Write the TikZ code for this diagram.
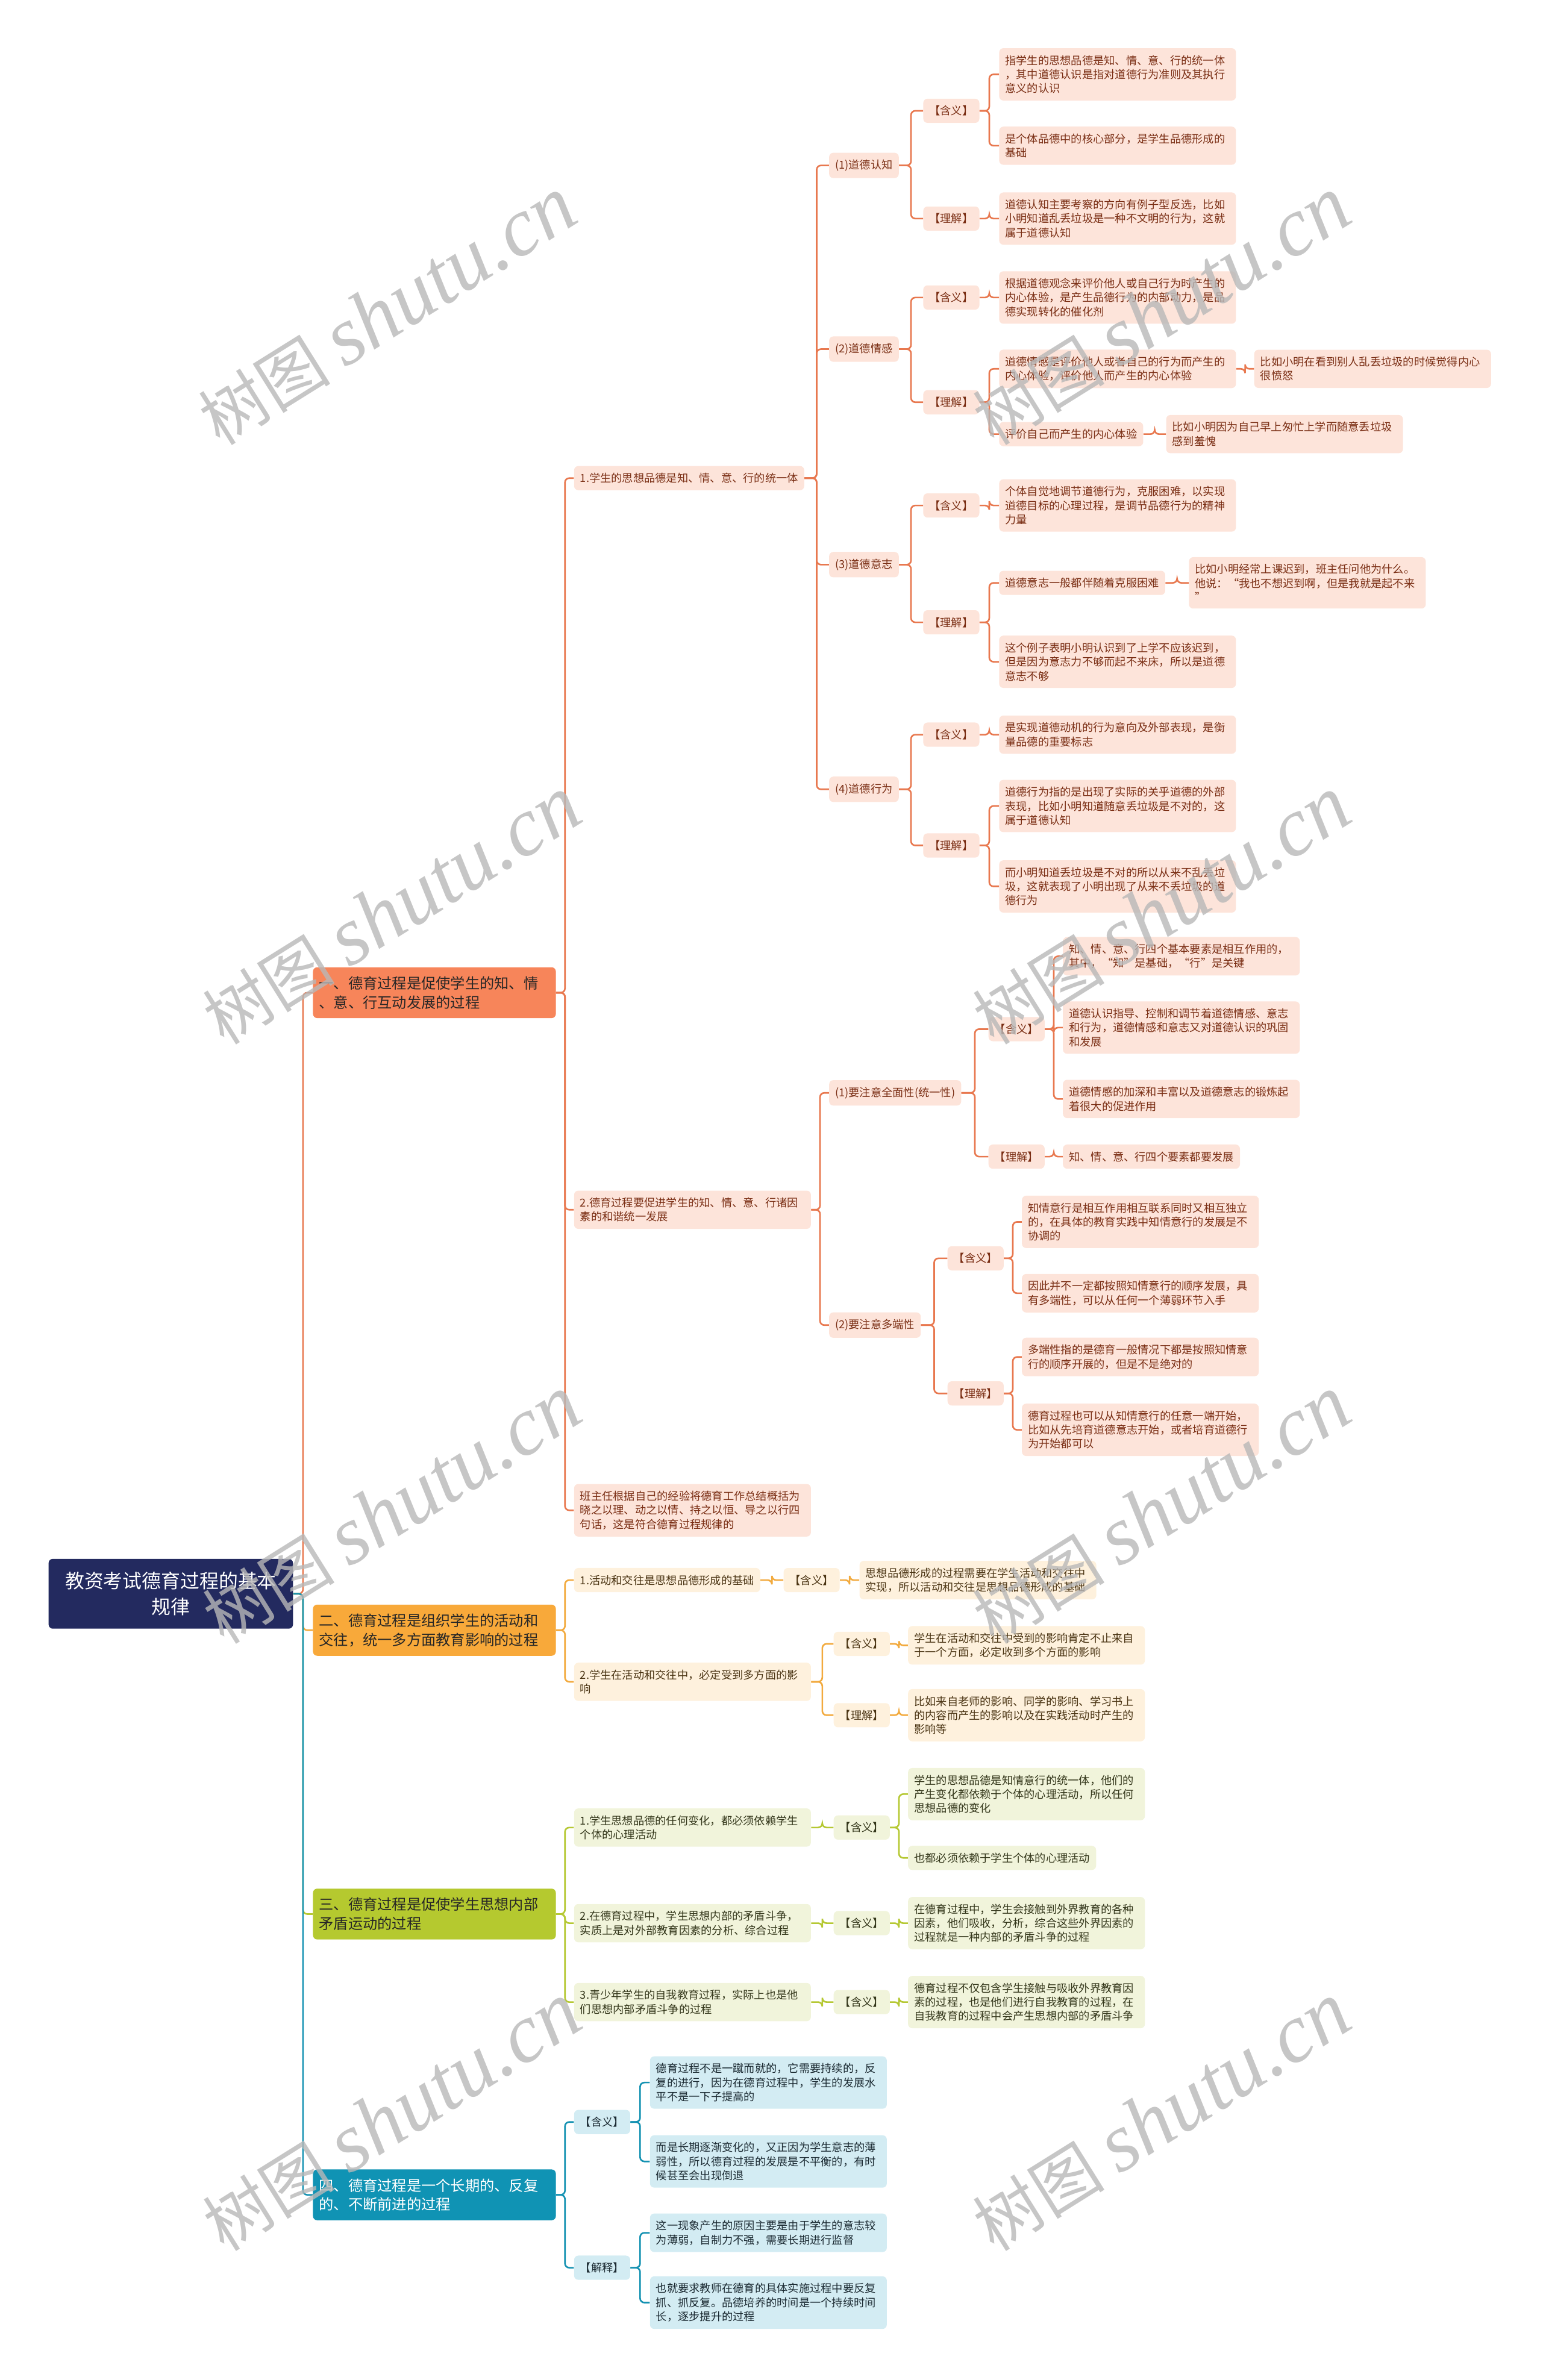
\documentclass[tikz,border=0pt]{standalone}
\usepackage{fontspec}
\setmainfont{Noto Sans CJK SC}
\newfontfamily\wmlat{Liberation Serif}
\usetikzlibrary{calc}
\definecolor{rootc}{HTML}{232A5F}
\definecolor{sA}{HTML}{F7855A}\definecolor{cA}{HTML}{E8784F}\definecolor{fA}{HTML}{FDE4DA}\definecolor{tA}{HTML}{7A2E14}
\definecolor{sB}{HTML}{F8A93A}\definecolor{cB}{HTML}{F2AA3E}\definecolor{fB}{HTML}{FEF1DD}\definecolor{tB}{HTML}{4A3413}
\definecolor{sC}{HTML}{B5C92F}\definecolor{cC}{HTML}{B5C833}\definecolor{fC}{HTML}{F1F4DB}\definecolor{tC}{HTML}{33361A}
\definecolor{sD}{HTML}{1093B4}\definecolor{cD}{HTML}{1592B2}\definecolor{fD}{HTML}{D3ECF3}\definecolor{tD}{HTML}{1C2B33}
\newcommand\dtfont{\fontsize{10.3}{13.2}\selectfont}
\newcommand\secfont{\fontsize{13.7}{17.8}\selectfont}
\newcommand\rootfont{\fontsize{18}{24}\selectfont}
\newcommand\wmcjk{\fontsize{62}{70}\selectfont}
\newcommand\wmlt{\fontsize{78}{80}\selectfont}
\newcommand\lk[3]{\draw[#1] (#2.east) -- ($(#2.east)!0.5!(#2.east -| #3.west)$) |- (#3.west);}
\tikzset{
  base/.style={rounded corners=4pt, inner xsep=2mm, inner ysep=2.3mm, align=left, font=\dtfont, anchor=west},
  wide/.style={text width=74mm},
  nA/.style={base, fill=fA, text=tA},
  nB/.style={base, fill=fB, text=tB},
  nC/.style={base, fill=fC, text=tC},
  nD/.style={base, fill=fD, text=tD},
  secbase/.style={rounded corners=4pt, text width=76mm, align=left, inner xsep=2mm, inner ysep=3mm, font=\secfont, anchor=west},
  lA/.style={draw=cA, line width=1.5pt, rounded corners=4pt},
  lB/.style={draw=cB, line width=1.5pt, rounded corners=4pt},
  lC/.style={draw=cC, line width=1.5pt, rounded corners=4pt},
  lD/.style={draw=cD, line width=1.5pt, rounded corners=4pt},
  wm/.style={rotate=32, text=black!28, text opacity=0.8, inner sep=0pt},
}
\begin{document}
\begin{tikzpicture}[x=0.5mm,y=-0.5mm]
\useasboundingbox (0,0) rectangle (1016,1568);
% root
\node[fill=rootc, text=white, rounded corners=4pt, minimum width=80.5mm, minimum height=23mm, text width=76mm, align=center, font=\rootfont, inner sep=0pt] (root) at (112.5,1050) {教资考试德育过程的基本\\规律};
% sections
\node[secbase, fill=sA, text=black!85] (s1) at (206,654) {一、德育过程是促使学生的知、情\\、意、行互动发展的过程};
\node[secbase, fill=sB, text=black!85] (s2) at (206,1074) {二、德育过程是组织学生的活动和\\交往，统一多方面教育影响的过程};
\node[secbase, fill=sC, text=black!85] (s3) at (206,1261) {三、德育过程是促使学生思想内部\\矛盾运动的过程};
\node[secbase, fill=sD, text=white] (s4) at (206,1446) {四、德育过程是一个长期的、反复\\的、不断前进的过程};
% ---- section 1
\node[nA] (a1) at (378,315) {1.学生的思想品德是知、情、意、行的统一体};
\node[nA, wide] (a2) at (378,797) {2.德育过程要促进学生的知、情、意、行诸因\\素的和谐统一发展};
\node[nA, wide] (a3) at (378,995) {班主任根据自己的经验将德育工作总结概括为\\晓之以理、动之以情、持之以恒、导之以行四\\句话，这是符合德育过程规律的};
\node[nA] (b1) at (546,109) {(1)道德认知};
\node[nA] (b2) at (546,230) {(2)道德情感};
\node[nA] (b3) at (546,372) {(3)道德意志};
\node[nA] (b4) at (546,520) {(4)道德行为};
\node[nA] (b1h) at (608,73) {【含义】};
\node[nA] (b1l) at (608,144) {【理解】};
\node[nA] (b2h) at (608,196) {【含义】};
\node[nA] (b2l) at (608,265) {【理解】};
\node[nA] (b3h) at (608,333) {【含义】};
\node[nA] (b3l) at (608,410) {【理解】};
\node[nA] (b4h) at (608,484) {【含义】};
\node[nA] (b4l) at (608,557) {【理解】};
\node[nA, wide] (b1h1) at (658,49) {指学生的思想品德是知、情、意、行的统一体\\，其中道德认识是指对道德行为准则及其执行\\意义的认识};
\node[nA, wide] (b1h2) at (658,96) {是个体品德中的核心部分，是学生品德形成的\\基础};
\node[nA, wide] (b1l1) at (658,144) {道德认知主要考察的方向有例子型反选，比如\\小明知道乱丢垃圾是一种不文明的行为，这就\\属于道德认知};
\node[nA, wide] (b2h1) at (658,196) {根据道德观念来评价他人或自己行为时产生的\\内心体验，是产生品德行为的内部动力，是品\\德实现转化的催化剂};
\node[nA, wide] (b2l1) at (658,243) {道德情感是评价他人或者自己的行为而产生的\\内心体验，评价他人而产生的内心体验};
\node[nA, wide] (b2l1x) at (826,243) {比如小明在看到别人乱丢垃圾的时候觉得内心\\很愤怒};
\node[nA] (b2l2) at (658,286) {评价自己而产生的内心体验};
\node[nA, wide] (b2l2x) at (768,286) {比如小明因为自己早上匆忙上学而随意丢垃圾\\感到羞愧};
\node[nA, wide] (b3h1) at (658,333) {个体自觉地调节道德行为，克服困难，以实现\\道德目标的心理过程，是调节品德行为的精神\\力量};
\node[nA] (b3l1) at (658,384) {道德意志一般都伴随着克服困难};
\node[nA, wide] (b3l1x) at (783,384) {比如小明经常上课迟到，班主任问他为什么。\\他说：“我也不想迟到啊，但是我就是起不来\\”};
\node[nA, wide] (b3l2) at (658,436) {这个例子表明小明认识到了上学不应该迟到，\\但是因为意志力不够而起不来床，所以是道德\\意志不够};
\node[nA, wide] (b4h1) at (658,484) {是实现道德动机的行为意向及外部表现，是衡\\量品德的重要标志};
\node[nA, wide] (b4l1) at (658,531) {道德行为指的是出现了实际的关乎道德的外部\\表现，比如小明知道随意丢垃圾是不对的，这\\属于道德认知};
\node[nA, wide] (b4l2) at (658,584) {而小明知道丢垃圾是不对的所以从来不乱丢垃\\圾，这就表现了小明出现了从来不丢垃圾的道\\德行为};
\node[nA] (c1) at (546,720) {(1)要注意全面性(统一性)};
\node[nA] (c2) at (546,873) {(2)要注意多端性};
\node[nA] (c1h) at (651,678) {【含义】};
\node[nA] (c1l) at (651,762) {【理解】};
\node[nA, wide] (c1h1) at (700,630) {知、情、意、行四个基本要素是相互作用的，\\其中，“知”是基础，“行”是关键};
\node[nA, wide] (c1h2) at (700,677) {道德认识指导、控制和调节着道德情感、意志\\和行为，道德情感和意志又对道德认识的巩固\\和发展};
\node[nA, wide] (c1h3) at (700,724) {道德情感的加深和丰富以及道德意志的锻炼起\\着很大的促进作用};
\node[nA] (c1l1) at (700,762) {知、情、意、行四个要素都要发展};
\node[nA] (c2h) at (624,829) {【含义】};
\node[nA] (c2l) at (624,918) {【理解】};
\node[nA, wide] (c2h1) at (673,805) {知情意行是相互作用相互联系同时又相互独立\\的，在具体的教育实践中知情意行的发展是不\\协调的};
\node[nA, wide] (c2h2) at (673,852) {因此并不一定都按照知情意行的顺序发展，具\\有多端性，可以从任何一个薄弱环节入手};
\node[nA, wide] (c2l1) at (673,894) {多端性指的是德育一般情况下都是按照知情意\\行的顺序开展的，但是不是绝对的};
\node[nA, wide] (c2l2) at (673,942) {德育过程也可以从知情意行的任意一端开始，\\比如从先培育道德意志开始，或者培育道德行\\为开始都可以};
% ---- section 2
\node[nB] (d1) at (378,1041) {1.活动和交往是思想品德形成的基础};
\node[nB] (d1h) at (516,1041) {【含义】};
\node[nB, wide] (d1h1) at (566,1041) {思想品德形成的过程需要在学生活动和交往中\\实现，所以活动和交往是思想品德形成的基础};
\node[nB, wide] (d2) at (378,1108) {2.学生在活动和交往中，必定受到多方面的影\\响};
\node[nB] (d2h) at (549,1083) {【含义】};
\node[nB] (d2l) at (549,1130) {【理解】};
\node[nB, wide] (d2h1) at (598,1084) {学生在活动和交往中受到的影响肯定不止来自\\于一个方面，必定收到多个方面的影响};
\node[nB, wide] (d2l1) at (598,1130) {比如来自老师的影响、同学的影响、学习书上\\的内容而产生的影响以及在实践活动时产生的\\影响等};
% ---- section 3
\node[nC, wide] (e1) at (378,1204) {1.学生思想品德的任何变化，都必须依赖学生\\个体的心理活动};
\node[nC] (e1h) at (549,1204) {【含义】};
\node[nC, wide] (e1h1) at (598,1182) {学生的思想品德是知情意行的统一体，他们的\\产生变化都依赖于个体的心理活动，所以任何\\思想品德的变化};
\node[nC] (e1h2) at (598,1224) {也都必须依赖于学生个体的心理活动};
\node[nC, wide] (e2) at (378,1267) {2.在德育过程中，学生思想内部的矛盾斗争，\\实质上是对外部教育因素的分析、综合过程};
\node[nC] (e2h) at (549,1267) {【含义】};
\node[nC, wide] (e2h1) at (598,1267) {在德育过程中，学生会接触到外界教育的各种\\因素，他们吸收，分析，综合这些外界因素的\\过程就是一种内部的矛盾斗争的过程};
\node[nC, wide] (e3) at (378,1319) {3.青少年学生的自我教育过程，实际上也是他\\们思想内部矛盾斗争的过程};
\node[nC] (e3h) at (549,1319) {【含义】};
\node[nC, wide] (e3h1) at (598,1319) {德育过程不仅包含学生接触与吸收外界教育因\\素的过程，也是他们进行自我教育的过程，在\\自我教育的过程中会产生思想内部的矛盾斗争};
% ---- section 4
\node[nD] (g1) at (378,1398) {【含义】};
\node[nD] (g2) at (378,1494) {【解释】};
\node[nD, wide] (g1a) at (428,1372) {德育过程不是一蹴而就的，它需要持续的，反\\复的进行，因为在德育过程中，学生的发展水\\平不是一下子提高的};
\node[nD, wide] (g1b) at (428,1424) {而是长期逐渐变化的，又正因为学生意志的薄\\弱性，所以德育过程的发展是不平衡的，有时\\候甚至会出现倒退};
\node[nD, wide] (g2a) at (428,1471) {这一现象产生的原因主要是由于学生的意志较\\为薄弱，自制力不强，需要长期进行监督};
\node[nD, wide] (g2b) at (428,1517) {也就要求教师在德育的具体实施过程中要反复\\抓、抓反复。品德培养的时间是一个持续时间\\长，逐步提升的过程};
% ---- links
\lk{lA}{root}{s1}\lk{lB}{root}{s2}\lk{lC}{root}{s3}\lk{lD}{root}{s4}
\lk{lA}{s1}{a1}\lk{lA}{s1}{a2}\lk{lA}{s1}{a3}
\lk{lA}{a1}{b1}\lk{lA}{a1}{b2}\lk{lA}{a1}{b3}\lk{lA}{a1}{b4}
\lk{lA}{b1}{b1h}\lk{lA}{b1}{b1l}\lk{lA}{b2}{b2h}\lk{lA}{b2}{b2l}
\lk{lA}{b3}{b3h}\lk{lA}{b3}{b3l}\lk{lA}{b4}{b4h}\lk{lA}{b4}{b4l}
\lk{lA}{b1h}{b1h1}\lk{lA}{b1h}{b1h2}\lk{lA}{b1l}{b1l1}
\lk{lA}{b2h}{b2h1}\lk{lA}{b2l}{b2l1}\lk{lA}{b2l}{b2l2}\lk{lA}{b2l1}{b2l1x}\lk{lA}{b2l2}{b2l2x}
\lk{lA}{b3h}{b3h1}\lk{lA}{b3l}{b3l1}\lk{lA}{b3l}{b3l2}\lk{lA}{b3l1}{b3l1x}
\lk{lA}{b4h}{b4h1}\lk{lA}{b4l}{b4l1}\lk{lA}{b4l}{b4l2}
\lk{lA}{a2}{c1}\lk{lA}{a2}{c2}
\lk{lA}{c1}{c1h}\lk{lA}{c1}{c1l}\lk{lA}{c1h}{c1h1}\lk{lA}{c1h}{c1h2}\lk{lA}{c1h}{c1h3}\lk{lA}{c1l}{c1l1}
\lk{lA}{c2}{c2h}\lk{lA}{c2}{c2l}\lk{lA}{c2h}{c2h1}\lk{lA}{c2h}{c2h2}\lk{lA}{c2l}{c2l1}\lk{lA}{c2l}{c2l2}
\lk{lB}{s2}{d1}\lk{lB}{s2}{d2}\lk{lB}{d1}{d1h}\lk{lB}{d1h}{d1h1}
\lk{lB}{d2}{d2h}\lk{lB}{d2}{d2l}\lk{lB}{d2h}{d2h1}\lk{lB}{d2l}{d2l1}
\lk{lC}{s3}{e1}\lk{lC}{s3}{e2}\lk{lC}{s3}{e3}
\lk{lC}{e1}{e1h}\lk{lC}{e1h}{e1h1}\lk{lC}{e1h}{e1h2}
\lk{lC}{e2}{e2h}\lk{lC}{e2h}{e2h1}\lk{lC}{e3}{e3h}\lk{lC}{e3h}{e3h1}
\lk{lD}{s4}{g1}\lk{lD}{s4}{g2}\lk{lD}{g1}{g1a}\lk{lD}{g1}{g1b}\lk{lD}{g2}{g2a}\lk{lD}{g2}{g2b}
% ---- watermarks
\foreach \wx/\wy [count=\i] in {255/205,765/205,258/600,765/600,258/995,765/995,258/1395,765/1395}{
  \node[wm] (wm\i) at (\wx,\wy) {\wmcjk 树图 \wmlt\wmlat\itshape shutu.cn};
}
\end{tikzpicture}
\end{document}
